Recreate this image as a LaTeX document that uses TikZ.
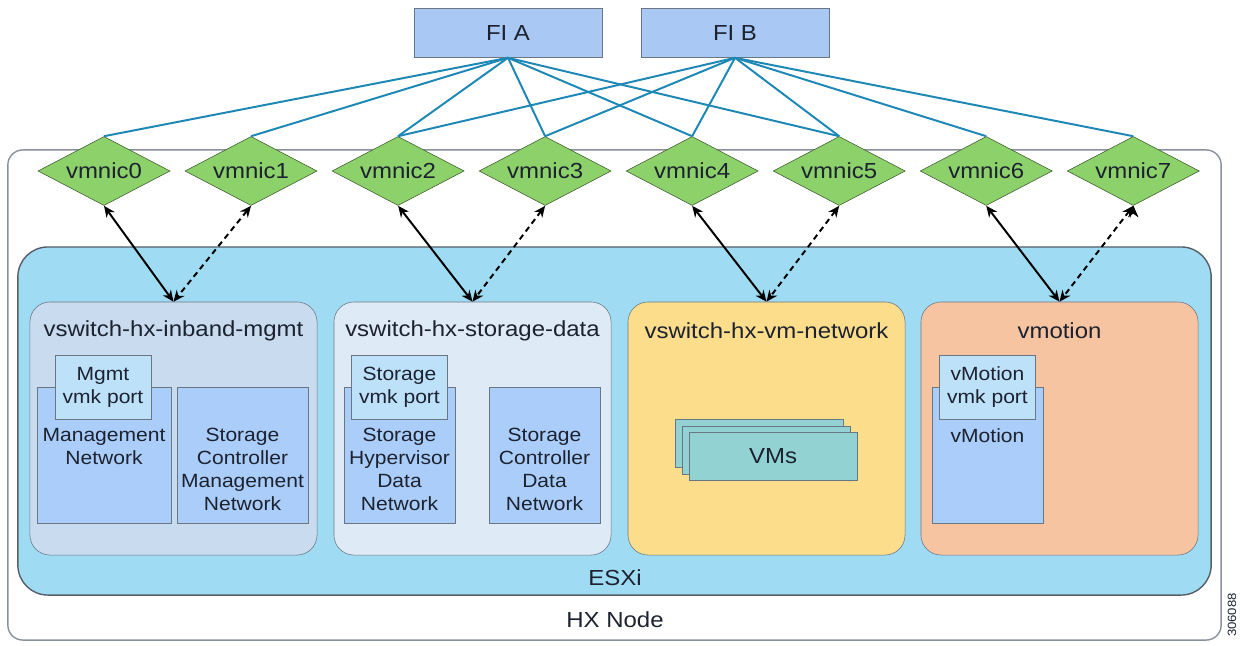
\documentclass[tikz,border=0pt]{standalone}
\usepackage{fontspec}
\setmainfont{Liberation Sans}[FakeStretch=1.1]
\usetikzlibrary{shapes.geometric,positioning,arrows.meta}
\definecolor{ink}{HTML}{1C2230}
\definecolor{fiblue}{HTML}{A9C9F4}
\definecolor{nicgreen}{HTML}{8DD16B}
\definecolor{nicedge}{HTML}{3E5A2E}
\definecolor{esxblue}{HTML}{9FDCF4}
\definecolor{mgmtbg}{HTML}{C8DBEF}
\definecolor{databg}{HTML}{DEEAF6}
\definecolor{vmbg}{HTML}{FCDD8B}
\definecolor{motionbg}{HTML}{F7C4A2}
\definecolor{netblue}{HTML}{AACDF9}
\definecolor{vmkblue}{HTML}{BEE1FA}
\definecolor{vmteal}{HTML}{92D2D3}
\definecolor{linkblue}{HTML}{1D88B6}
\definecolor{edgegray}{HTML}{6B7683}

\begin{document}
\begin{tikzpicture}[x=0.025cm,y=-0.025cm,node distance=3.675cm,on grid,
    txt/.style={font=\fontsize{13.6}{16.4}\selectfont,text=ink,align=center,inner sep=0pt},
    swtitle/.style={font=\fontsize{15.5}{18}\selectfont,text=ink,inner sep=0pt},
    fi/.style={draw=edgegray,fill=fiblue,minimum width=4.7cm,minimum height=1.225cm,swtitle},
    nic/.style={diamond,draw=nicedge,fill=nicgreen,minimum width=3.3cm,minimum height=1.725cm,
      shape aspect=1.9,inner sep=0pt,swtitle},
    vsw/.style={draw=edgegray,rounded corners=0.5cm,minimum height=6.325cm,minimum width=6.925cm},
    net/.style={draw=edgegray,fill=netblue,minimum width=2.775cm,minimum height=3.4cm},
    vmk/.style={draw=edgegray,fill=vmkblue,minimum width=2.4cm,minimum height=1.6cm,txt},
    vm/.style={draw=edgegray,fill=vmteal,minimum width=4.2cm,minimum height=1.2cm},
    uplink/.style={draw=linkblue,line width=1.4pt},
    bind/.style={<->,>={Stealth[length=8pt,width=7pt]},line width=1.4pt,draw=black}]
   \useasboundingbox (0,0) rectangle (1240,645);
   % host and hypervisor
   \node[draw=edgegray!80,line width=1pt,rounded corners=0.375cm,minimum width=30.325cm,
     minimum height=12.25cm] (hx) at (614.5,395) {};
   \node[draw=edgegray!80!black,fill=esxblue,line width=1pt,rounded corners=0.75cm,
     minimum width=29.825cm,minimum height=8.7cm] (esxi) at (614.5,421) {};
   \node[swtitle] (esxi_lbl) at (615,578) {ESXi};
   \node[swtitle] (hx_lbl) at (615,620) {HX Node};
   \node[font=\fontsize{8.5}{10}\selectfont,text=ink,rotate=90] (fig_id) at (1232,615) {306088};
   % fabric interconnects
   \node[fi] (fi_a) at (508,33) {FI A};
   \node[fi] (fi_b) at (735,33) {FI B};
   % vswitches
   \node[vsw,fill=mgmtbg,minimum width=7.175cm] (sw_mgmt) at (173.5,428.5) {};
   \node[vsw,fill=databg] (sw_data) at (472.5,428.5) {};
   \node[vsw,fill=vmbg] (sw_vm) at (766.5,428.5) {};
   \node[vsw,fill=motionbg] (sw_motion) at (1059.5,428.5) {};
   \node[swtitle] at (sw_mgmt.north |- 0,331) {vswitch-hx-inband-mgmt};
   \node[swtitle] at (sw_data.north |- 0,331) {vswitch-hx-storage-data};
   \node[swtitle] at (sw_vm.north |- 0,331) {vswitch-hx-vm-network};
   \node[swtitle] at (sw_motion.north |- 0,331) {vmotion};
   % port groups
   \node[net,minimum width=3.35cm] (pg_mgmt) at (104,455) {};
   \node[net,minimum width=3.275cm] (pg_scmgmt) at (242.5,455) {};
   \node[net] (pg_hvdata) at (399.5,455) {};
   \node[net] (pg_scdata) at (544.5,455) {};
   \node[net] (pg_motion) at (987.5,455) {};
   \node[txt,anchor=north] at (pg_mgmt.north |- 0,428) {Management\\Network};
   \node[txt,anchor=north] at (pg_scmgmt.north |- 0,428) {Storage\\Controller\\Management\\Network};
   \node[txt,anchor=north] at (pg_hvdata.north |- 0,428) {Storage\\Hypervisor\\Data\\Network};
   \node[txt,anchor=north] at (pg_scdata.north |- 0,428) {Storage\\Controller\\Data\\Network};
   \node[txt,anchor=north] at (pg_motion.north |- 0,428) {vMotion};
   \node[vmk] (vmk_mgmt) at (103,387) {Mgmt\\vmk port};
   \node[vmk] (vmk_data) at (399.5,387) {Storage\\vmk port};
   \node[vmk] (vmk_motion) at (987.5,387) {vMotion\\vmk port};
   % guest vms
   \node[vm] (vm_3) at (759,443) {};
   \node[vm] (vm_2) at (766,450) {};
   \node[vm,swtitle] (vm_1) at (773,456) {VMs};
   % uplink nics
   \node[nic] (nic_0) at (104,171) {vmnic0};
   \node[nic] (nic_1) [right=of nic_0] {vmnic1};
   \node[nic] (nic_2) [right=of nic_1] {vmnic2};
   \node[nic] (nic_3) [right=of nic_2] {vmnic3};
   \node[nic] (nic_4) [right=of nic_3] {vmnic4};
   \node[nic] (nic_5) [right=of nic_4] {vmnic5};
   \node[nic] (nic_6) [right=of nic_5] {vmnic6};
   \node[nic] (nic_7) [right=of nic_6] {vmnic7};
    \path[uplink]
    (fi_a.south) edge (nic_0.north) edge (nic_1.north) edge (nic_2.north)
                 edge (nic_3.north) edge (nic_4.north) edge (nic_5.north)
    (fi_b.south) edge (nic_2.north) edge (nic_3.north) edge (nic_4.north)
                 edge (nic_5.north) edge (nic_6.north) edge (nic_7.north);
    \path[bind]
    (nic_0.south) edge (sw_mgmt.north)
    (nic_1.south) edge [dash pattern=on 4pt off 3pt] (sw_mgmt.north)
    (nic_2.south) edge (sw_data.north)
    (nic_3.south) edge [dash pattern=on 4pt off 3pt] (sw_data.north)
    (nic_4.south) edge (sw_vm.north)
    (nic_5.south) edge [dash pattern=on 4pt off 3pt] (sw_vm.north)
    (nic_6.south) edge (sw_motion.north)
    (nic_7.south) edge [dash pattern=on 4pt off 3pt] (sw_motion.north);
\end{tikzpicture}
\end{document}
